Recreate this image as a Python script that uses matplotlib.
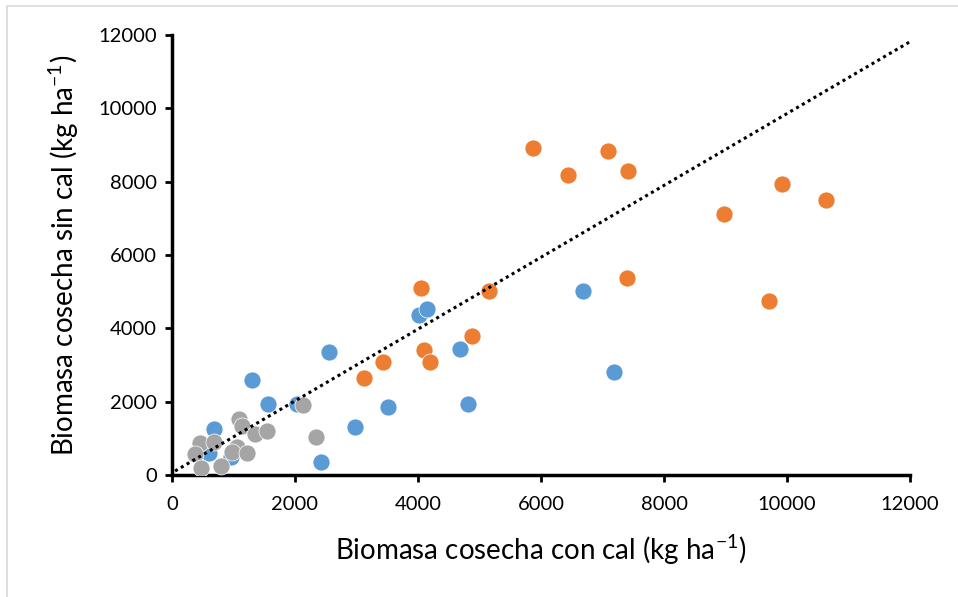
import matplotlib.pyplot as plt
from matplotlib.patches import Rectangle

plt.rcParams['font.family'] = ['Lato', 'DejaVu Sans']
plt.rcParams['mathtext.fontset'] = 'custom'
plt.rcParams['mathtext.rm'] = 'Lato'

# biomass with lime (x) vs without lime (y), kg/ha
blue_x = [2553, 1306, 1556, 2038, 2976, 2428, 678, 607, 959, 4016, 4141, 4683, 3517, 4813, 6683, 7192]
blue_y = [3354, 2600, 1945, 1936, 1318, 364, 1245, 591, 500, 4363, 4518, 3445, 1854, 1945, 5018, 2818]

orange_x = [5870, 7095, 6444, 7420, 9924, 10629, 8980, 7393, 9702, 4049, 5154, 4873, 4093, 4190, 3436, 3127]
orange_y = [8917, 8836, 8173, 8282, 7936, 7499, 7126, 5381, 4745, 5108, 5026, 3782, 3400, 3082, 3082, 2654]

grey_x = [2135, 2341, 1095, 1133, 1350, 1550, 455, 688, 374, 1052, 971, 1225, 466, 802]
grey_y = [1909, 1028, 1518, 1336, 1127, 1191, 864, 909, 564, 773, 636, 600, 200, 245]

trend_x = [50, 12000]
trend_y = [109, 11817]

ticks = [0, 2000, 4000, 6000, 8000, 10000, 12000]

fig = plt.figure(figsize=(9.58, 5.97), dpi=100)
fig.patches.append(Rectangle((7 / 958, -0.1), 1.2, (597 - 6) / 597 + 0.1,
                             transform=fig.transFigure, fill=False,
                             edgecolor='#d9d9d9', linewidth=1.2))
ax = fig.add_axes([172 / 958, 122 / 597, 738 / 958, 440 / 597])

ax.scatter(blue_x, blue_y, s=150, color='#5b9bd5', edgecolor='white', linewidth=0.5, zorder=3)
ax.scatter(orange_x, orange_y, s=150, color='#ed7d31', edgecolor='white', linewidth=0.5, zorder=3)
ax.scatter(grey_x, grey_y, s=150, color='#a5a5a5', edgecolor='white', linewidth=0.5, zorder=3)
ax.plot(trend_x, trend_y, color='black', linestyle=(0, (1, 1.2)), linewidth=2.2, zorder=4)

ax.set_xlim(0, 12000)
ax.set_ylim(0, 12000)
ax.set_xticks(ticks)
ax.set_yticks(ticks)
ax.tick_params(labelsize=14.5, width=2, length=5)
ax.tick_params(axis='x', pad=10)
ax.tick_params(axis='y', pad=6)
for side in ['top', 'right']:
    ax.spines[side].set_visible(False)
for side in ['left', 'bottom']:
    ax.spines[side].set_linewidth(2.5)

ax.set_xlabel('Biomasa cosecha con cal (kg ha$^{\\mathregular{-1}}$)', fontsize=20, labelpad=14)
ax.set_ylabel('Biomasa cosecha sin cal (kg ha$^{\\mathregular{-1}}$)', fontsize=20, labelpad=12)

fig.savefig('out.png', dpi=100)
